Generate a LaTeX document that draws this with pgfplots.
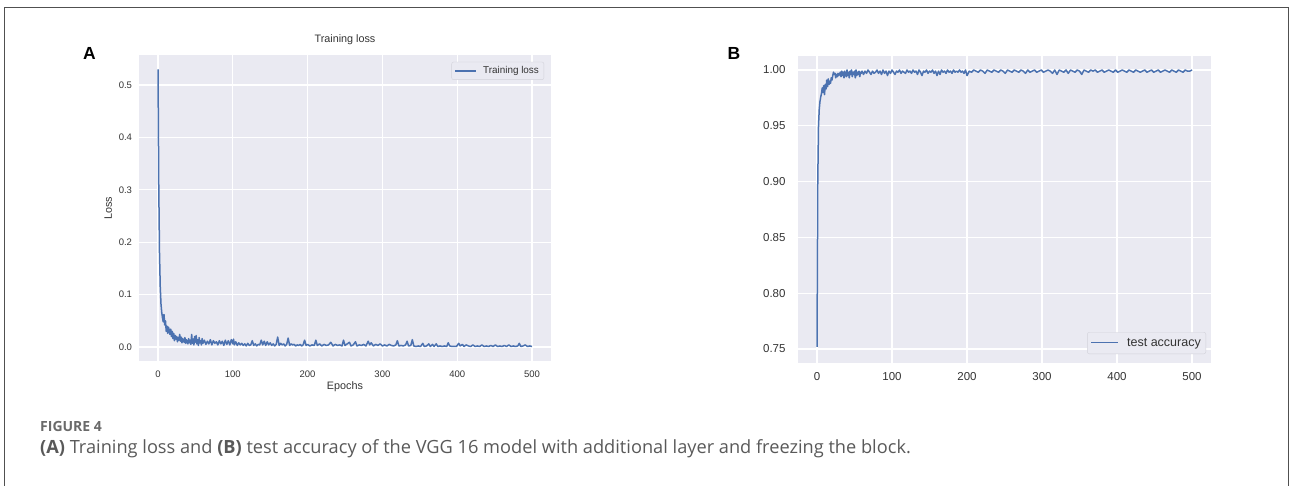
\documentclass[border=0pt]{standalone}
\usepackage{fontspec}
\setmainfont{Liberation Sans}
\newfontfamily\capfont{Open Sans}
\usepackage{pgfplots}
\usepackage{pgfplotstable}
\pgfplotsset{compat=1.18}

\definecolor{snsbg}{HTML}{EAEAF2}
\definecolor{snsblue}{HTML}{4C72B0}
\definecolor{ticktext}{HTML}{333333}
\definecolor{legedge}{HTML}{D2D2DA}
\definecolor{capgray}{HTML}{595959}
\definecolor{figgray}{HTML}{6A6A6A}
\definecolor{framegray}{HTML}{505050}

% training loss per epoch
\pgfplotstableread{
epoch loss
0 0.530
1 0.310
2 0.180
3 0.115
4 0.082
5 0.066
6 0.056
7 0.048
8 0.062
9 0.042
10 0.050
11 0.030
12 0.040
13 0.026
14 0.038
15 0.032
16 0.024
17 0.034
18 0.020
19 0.030
20 0.016
21 0.026
22 0.012
23 0.022
24 0.015
25 0.020
26 0.010
27 0.018
28 0.013
29 0.024
30 0.011
31 0.019
32 0.008
33 0.016
34 0.012
35 0.009
36 0.018
37 0.007
38 0.014
39 0.010
40 0.006
41 0.016
42 0.008
43 0.013
44 0.005
45 0.024
46 0.007
47 0.015
48 0.004
49 0.020
50 0.009
51 0.022
52 0.006
53 0.014
54 0.003
55 0.018
56 0.008
57 0.012
58 0.004
59 0.016
60 0.007
62 0.013
64 0.005
66 0.011
68 0.006
70 0.014
72 0.004
74 0.012
76 0.007
78 0.010
80 0.004
82 0.012
84 0.006
86 0.011
88 0.003
90 0.013
92 0.005
94 0.012
96 0.004
98 0.014
100 0.006
101 0.015
102 0.004
104 0.010
106 0.003
108 0.008
110 0.004
112 0.007
114 0.003
116 0.006
118 0.002
120 0.007
122 0.003
124 0.004
126 0.012
128 0.003
130 0.006
132 0.002
134 0.005
136 0.004
138 0.013
140 0.004
142 0.011
144 0.003
146 0.010
148 0.004
150 0.008
152 0.003
154 0.006
156 0.002
158 0.005
160 0.019
162 0.003
164 0.007
166 0.004
168 0.006
170 0.002
172 0.005
174 0.017
176 0.003
178 0.006
180 0.004
182 0.005
184 0.002
186 0.004
188 0.003
190 0.005
192 0.002
194 0.004
196 0.013
198 0.003
200 0.005
203 0.002
206 0.004
209 0.003
211 0.013
213 0.003
216 0.006
219 0.002
222 0.005
225 0.003
228 0.004
231 0.009
234 0.002
237 0.005
240 0.003
243 0.004
246 0.002
248 0.013
250 0.003
253 0.006
256 0.009
258 0.002
261 0.004
264 0.010
266 0.002
269 0.004
272 0.003
275 0.005
278 0.002
281 0.011
283 0.004
285 0.008
288 0.002
291 0.005
294 0.003
297 0.006
300 0.002
303 0.004
306 0.002
309 0.005
312 0.003
315 0.002
318 0.004
320 0.012
322 0.002
325 0.003
328 0.002
331 0.004
333 0.011
335 0.002
338 0.003
340 0.014
342 0.002
345 0.001
348 0.002
351 0.001
354 0.007
356 0.001
359 0.002
362 0.006
364 0.001
367 0.005
369 0.001
372 0.006
374 0.001
377 0.002
380 0.001
383 0.002
386 0.001
388 0.008
390 0.002
393 0.001
396 0.001
399 0.001
402 0.007
404 0.002
407 0.005
409 0.001
412 0.004
415 0.002
418 0.001
421 0.004
424 0.001
427 0.002
430 0.001
433 0.004
436 0.001
439 0.002
442 0.001
445 0.003
448 0.001
451 0.004
454 0.001
457 0.002
460 0.001
463 0.003
466 0.001
469 0.004
472 0.001
475 0.002
478 0.001
481 0.002
483 0.007
485 0.001
488 0.002
491 0.004
494 0.001
497 0.002
500 0.001
}\losstable

% test accuracy per epoch
\pgfplotstableread{
epoch acc
0 0.752
1 0.900
2 0.950
3 0.965
4 0.972
5 0.976
6 0.979
7 0.984
8 0.980
9 0.986
10 0.978
11 0.987
12 0.983
13 0.991
14 0.985
15 0.992
16 0.987
17 0.990
18 0.988
19 0.993
20 0.991
21 0.995
22 0.998
23 0.996
24 0.997
25 0.993
26 0.996
27 0.994
28 0.997
29 0.995
30 0.996
31 0.998
32 0.994
33 0.999
34 0.995
35 0.998
36 0.993
37 0.999
38 0.996
39 0.994
40 1.000
41 0.995
42 0.998
43 0.993
44 0.999
45 0.996
46 1.000
47 0.994
48 0.998
49 0.996
50 0.999
51 0.993
52 1.000
53 0.995
54 0.998
55 0.996
56 0.999
57 0.994
58 0.998
59 0.997
60 0.999
62 0.996
64 0.999
66 0.997
68 1.000
70 0.998
72 0.996
74 0.999
76 0.997
78 0.998
80 1.000
82 0.997
84 0.999
86 0.996
88 1.000
90 0.997
92 0.999
94 0.995
96 0.999
98 0.997
100 1.000
102 0.998
104 0.996
106 0.999
108 0.998
110 1.000
112 0.997
114 0.999
116 0.998
118 0.997
120 1.000
122 0.998
124 0.999
126 0.997
128 1.000
130 0.998
132 0.999
134 0.996
136 1.000
138 0.998
140 0.995
142 0.999
144 0.998
146 1.000
148 0.997
150 0.999
152 0.998
154 1.000
156 0.997
158 0.999
160 0.995
162 0.999
164 0.996
166 1.000
168 0.998
170 0.999
172 0.997
174 1.000
176 0.998
178 0.999
180 0.997
182 1.000
184 0.998
186 0.999
188 0.998
190 1.000
192 0.998
194 0.999
196 0.997
198 1.000
200 0.995
203 0.999
206 0.998
209 1.000
212 0.999
215 0.998
218 1.000
221 0.999
224 0.997
227 1.000
230 0.999
233 0.998
236 1.000
239 0.999
242 0.998
245 1.000
248 0.999
251 0.997
254 1.000
257 0.999
260 0.998
263 1.000
266 0.999
269 0.998
272 1.000
275 0.999
278 0.997
281 1.000
284 0.998
287 0.999
290 1.000
293 0.998
296 0.999
299 1.000
302 0.998
305 0.999
308 1.000
311 0.999
314 0.997
317 1.000
320 0.996
323 1.000
326 0.999
329 0.998
332 1.000
335 0.997
338 1.000
341 0.999
344 0.998
347 1.000
350 0.999
353 0.996
356 1.000
359 0.999
362 0.998
365 1.000
368 0.999
371 1.000
374 0.998
377 0.999
380 1.000
383 0.998
386 0.999
389 1.000
392 0.999
395 0.998
398 1.000
401 0.998
404 0.999
407 1.000
410 0.999
413 0.998
416 1.000
419 0.999
422 0.998
425 1.000
428 0.999
431 0.998
434 0.999
437 1.000
440 0.998
443 0.999
446 1.000
449 0.998
452 0.999
455 1.000
458 0.998
461 0.999
464 1.000
467 0.999
470 0.998
473 1.000
476 0.999
479 0.998
482 1.000
485 0.999
488 0.998
491 1.000
494 0.999
497 0.999
500 1.000
}\acctable

\pgfplotsset{
  snsaxis/.style={
    scale only axis,
    axis background/.style={fill=snsbg},
    axis line style={draw=none},
    tick style={draw=none},
    grid=major,
    major grid style={white, line width=1.2pt},
    ticklabel style={text=ticktext},
    /pgf/number format/assume math mode=true,
    xtick={0,100,200,300,400,500},
    xmin=-25, xmax=525,
    legend cell align=left,
    legend style={fill=snsbg, draw=legedge, rounded corners=2pt, text=ticktext},
  }
}

\begin{document}
\begin{tikzpicture}
\useasboundingbox (0pt,0pt) rectangle (1290pt,486pt);
\draw[framegray, line width=0.9pt] (4pt,-20pt) -- (4pt,479pt) -- (1288pt,479pt) -- (1288pt,-20pt);

\begin{axis}[snsaxis,
  at={(139.3pt,125.1pt)}, anchor=south west,
  width=411.4pt, height=305.5pt,
  ymin=-0.0265, ymax=0.5565,
  ytick={0,0.1,0.2,0.3,0.4,0.5},
  ticklabel style={font=\fontsize{9.5}{11}\selectfont},
  xticklabel shift=6pt, yticklabel shift=3.8pt,
  yticklabel style={/pgf/number format/.cd, fixed, fixed zerofill, precision=1},
  title={Training loss},
  title style={at={(axis description cs:0.5,1.031)}, anchor=center, font=\fontsize{10.8}{12}\selectfont, text=ticktext},
  xlabel={Epochs},
  xlabel style={at={(axis description cs:0.5,-0.085)}, anchor=center, font=\fontsize{10.8}{12}\selectfont, text=ticktext},
  ylabel={Loss},
  ylabel style={at={(axis description cs:-0.0754,0.5)}, anchor=center, font=\fontsize{10.8}{12}\selectfont, text=ticktext},
  legend style={at={(0.984,0.979)}, anchor=north east, font=\fontsize{9.9}{11}\selectfont, inner xsep=3pt, inner ysep=2.5pt, /tikz/column sep=4pt},
  legend image code/.code={\draw[snsblue, line width=1.5pt] (0pt,0pt) -- (21pt,0pt);},
]
\addplot[snsblue, line width=1.5pt, line join=round] table[x=epoch, y=loss] {\losstable};
\addlegendentry{Training loss}
\end{axis}

\begin{axis}[snsaxis,
  at={(798.25pt,123.05pt)}, anchor=south west,
  width=412.5pt, height=306.9pt,
  ymin=0.7375, ymax=1.0125,
  ytick={0.75,0.80,0.85,0.90,0.95,1.00},
  ticklabel style={font=\fontsize{11.5}{13}\selectfont},
  xticklabel shift=6.2pt, yticklabel shift=9.2pt,
  yticklabel style={/pgf/number format/.cd, fixed, fixed zerofill, precision=2},
  legend style={at={(0.9885,0.029)}, anchor=south east, font=\fontsize{12.5}{14}\selectfont, inner xsep=3pt, inner ysep=4pt, /tikz/column sep=6pt},
  legend image code/.code={\draw[snsblue, line width=1.8pt] (0pt,0.5pt) -- (27pt,0.5pt);},
]
\addplot[snsblue, line width=1.5pt, line join=round] table[x=epoch, y=acc] {\acctable};
\addlegendentry{test accuracy}
\end{axis}

\node[anchor=base west, inner sep=0, font=\bfseries\fontsize{17.5}{20}\selectfont] at (83pt,426.7pt) {A};
\node[anchor=base west, inner sep=0, font=\bfseries\fontsize{17.5}{20}\selectfont] at (727.5pt,426.7pt) {B};

\node[anchor=base west, inner sep=0, text=figgray, font=\capfont\bfseries\fontsize{14}{16}\selectfont] at (40pt,54.5pt) {FIGURE 4};
\node[anchor=base west, inner sep=0, text=capgray, font=\capfont\fontsize{18.2}{21}\selectfont] at (40pt,32pt) {\textbf{(A)} Training loss and \textbf{(B)} test accuracy of the VGG 16 model with additional layer and freezing the block.};
\end{tikzpicture}
\end{document}
